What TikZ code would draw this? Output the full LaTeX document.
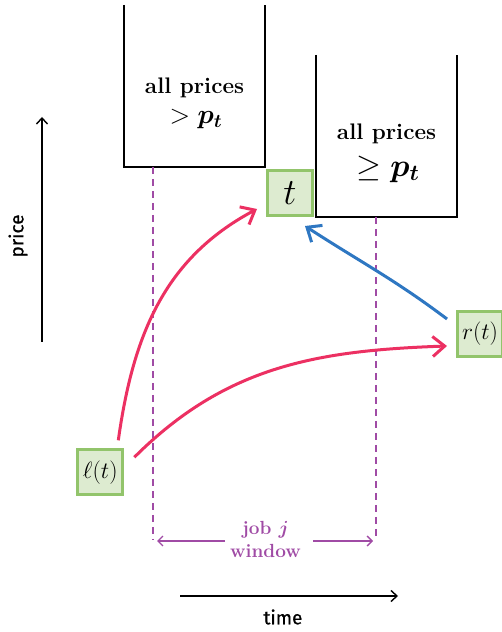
\RequirePackage{fix-cm}
\documentclass[tikz,border=0pt]{standalone}
\usepackage{amsmath,amssymb}
\usepackage{fontspec}
\newfontfamily\axisfont[FakeBold=0.8]{Fira Sans}
\usetikzlibrary{arrows.meta,calc}
\definecolor{gfill}{HTML}{DDEBD0}
\definecolor{gline}{HTML}{92C46B}
\definecolor{redc}{HTML}{EC3062}
\definecolor{bluec}{HTML}{2E77C2}
\definecolor{purp}{HTML}{A04BA5}
\tikzset{
  gbox/.style={draw=gline,fill=gfill,line width=3pt,minimum size=45pt,inner sep=0pt},
  binbox/.style={line width=1.4pt,black},
  boxtxt/.style={font=\fontsize{22.5}{26}\selectfont\bfseries,inner sep=0pt},
  curvearrow/.style={line width=3pt,-{Straight Barb[length=12pt,width=20pt]}},
  dashline/.style={purp,line width=1.3pt,dash pattern=on 7pt off 5pt},
  axisarrow/.style={line width=1.4pt,-{Straight Barb[length=6pt,width=11pt]}},
  winarrow/.style={purp,line width=1.4pt,-{Straight Barb[length=5pt,width=10pt]}},
  axislabel/.style={font=\axisfont\fontsize{19}{21}\selectfont,inner sep=0pt}
}
\begin{document}
\begin{tikzpicture}[x=1pt,y=1pt]
\useasboundingbox (0,0) rectangle (501,632);
% bins
\draw[binbox] (124,627) -- (124,465) -- (265,465) -- (265,627);
\draw[binbox] (316,577) -- (316,415) -- (457,415) -- (457,577);
\node[boxtxt] (l1) at (194.5,544) {all prices};
\node[boxtxt,font=\fontsize{27}{30}\selectfont] (l2) at (196,513) {$>\boldsymbol{p_t}$};
\node[boxtxt] (r1) at (386.5,498) {all prices};
\node[boxtxt,font=\fontsize{32}{34}\selectfont] (r2) at (388,463) {$\geq\boldsymbol{p_t}$};
% dashed window lines
\coordinate (d1t) at (153,465);
\coordinate (d1b) at (153,92);
\coordinate (d2t) at (376,415);
\coordinate (d2b) at (376,92);
\draw[dashline] (d1t) -- (d1b);
\draw[dashline] (d2t) -- (d2b);
% nodes
\node[gbox,font=\fontsize{37}{39}\selectfont] (t) at (290,438.5) {$t$};
\node[gbox,font=\fontsize{23.5}{25}\selectfont] (l) at (100.3,159.7) {$\ell(t)$};
\node[gbox,font=\fontsize{23.5}{25}\selectfont] (r) at (480,298) {$r(t)$};
% curved arrows
\draw[curvearrow,redc] ([xshift=18pt,yshift=8pt]l.north) to[out=82,in=208] ([xshift=-9pt,yshift=8.5pt]t.south west);
\draw[curvearrow,redc] ([xshift=10pt,yshift=-9pt]l.north east) to[out=45,in=182] ([xshift=-9pt,yshift=-12pt]r.west);
\draw[curvearrow,bluec] ([xshift=-9pt,yshift=15pt]r.west) to[out=143,in=-33] ([xshift=-9pt,yshift=-8.5pt]t.south east);
% window
\node[purp,font=\fontsize{19}{23}\selectfont\bfseries,align=center,inner sep=0pt] (win) at (265.5,93) {job $\boldsymbol{j}$\\window};
\coordinate (wl) at (157,91);
\coordinate (wr) at (373,91);
\draw[winarrow] (225,91) -- (wl);
\draw[winarrow] (313,91) -- (wr);
% axes
\coordinate (ta) at (180,36);
\coordinate (tb) at (398,36);
\draw[axisarrow] (ta) -- (tb);
\node[axislabel] (tl) at (283,15) {time};
\coordinate (pa) at (42,290);
\coordinate (pb) at (42,515);
\draw[axisarrow] (pa) -- (pb);
\node[axislabel,rotate=90] (pl) at (18,396) {price};
\end{tikzpicture}
\end{document}
